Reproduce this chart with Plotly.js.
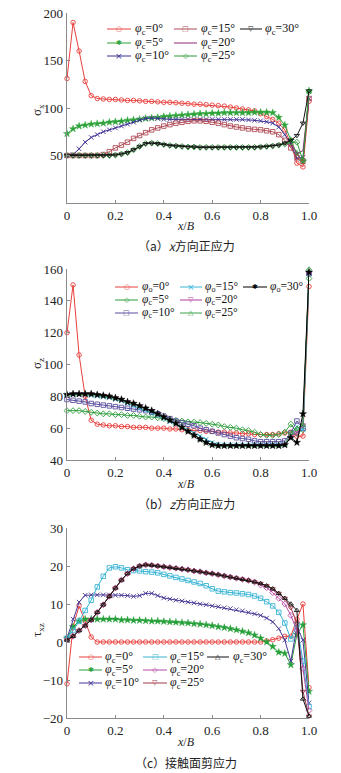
<!DOCTYPE html>
<html><head><meta charset="utf-8">
<script src="https://cdn.plot.ly/plotly-3.0.1.min.js"></script>
<style>html,body{margin:0;padding:0;background:#fff}#chart{width:341px;height:773px}</style>
</head><body><div id="chart"></div>
<script>
// ---------- data ----------
const xB = [0,0.025,0.05,0.075,0.1,0.125,0.15,0.175,0.2,0.225,0.25,0.275,0.3,0.325,0.35,0.375,0.4,0.425,0.45,0.475,0.5,0.525,0.55,0.575,0.6,0.625,0.65,0.675,0.7,0.725,0.75,0.775,0.8,0.825,0.85,0.875,0.9,0.925,0.95,0.975,1.0];
const xTickVals = [0,0.2,0.4,0.6,0.8,1.0];
const xTickText = ['0','0.2','0.4','0.6','0.8','1.0'];

// (a) sigma_x
const sx0  = [131,190,160,128,113,110,109.5,109,109,108.5,108,108,107.5,107,107,106.5,106,106,105.5,105,104.5,104,104,103.5,103,102.5,102,101,100,99,98,97,94,91,88,84,77,62,42,38,107];
const sx5  = [73,78,81,82,83,83.5,84,85,85.5,86,87,87.5,88,89,89.5,90,91,91.5,92,92.5,93,93.5,94,94,94.5,94.5,95,95,95,95,95,95.5,95.5,95.5,95,90,82,66,52,44,118];
const sx10 = [50,51,57,64,69,72,75,77,79,81,83,85,87.5,89,89.5,89,88,88,88,88,88,88,88,88,88,88,88,88,88,88,87.5,87,86.5,85.5,84,80,72,62,47,48,110];
const sx15 = [50,50,50,50,50,50,51,54,58,61,64,68,71,74,77,79,81,82.5,84,85,86,86.5,86.5,86,85,84,82.5,81,80,79,78,77.5,77,76,75,72,66,58,48,44,110];
const sx20 = [50,50,50,50,50,50,50,50,50.5,51.5,53,56,59.5,62.5,63,62.5,61.5,60.5,60,59.5,59,59,58.5,58.5,58.5,58.5,58.5,58.5,58.5,58.5,58.5,58.5,59,59.5,60,61,62,62,52,55,112];
const sx25 = [50,50,50,50,50,50,50,50,50.5,51.5,53,56,59.5,62.5,63,62.5,61.5,60.5,60,59.5,59,59,58.5,58.5,58.5,58.5,58.5,58.5,58.5,58.5,58.5,58.5,59,59.5,60,61,62,64,64,45,117];
const sx30 = [50,50,50,50,50,50,50,50,50.5,51.5,53,56,59.5,62.5,63,62.5,61.5,60.5,60,59.5,59,59,58.5,58.5,58.5,58.5,58.5,58.5,58.5,58.5,58.5,58.5,59,59.5,60,61,63,66,71,84,118];

// (b) sigma_z
const sz0  = [120,150,106,80,65,62.5,62,61.5,61.5,61,61,60.5,60.5,60.5,60,60,60,59.5,59.5,59,59,58.5,58.5,58,58,57.5,57.5,57,57,56.5,56.5,56,56,56,56,56.5,57,57.5,55,55,149];
const sz5  = [71,71,71,70.5,70,69.5,69,69,68.5,68.5,68,68,67.5,67,67,66.5,66,65.5,65,64.5,64,63.8,63.5,63,62.5,62,61,60.5,60,59,58.5,57.5,56,55.5,55.5,56,57.5,62.5,57,59,154];
const sz10 = [78,77.5,77,76.5,75.5,75,74.5,74,73.5,73,72.5,72,71.5,71,70,69,67.5,66,64.5,63.5,62.5,61.5,60,59,58,57,56,55,54,53.5,53,52,51.5,51.5,51.5,51.5,52,57,64.5,60,157];
const sz15 = [81,81,81,81,80.5,80,79.5,79,78,77,75.5,74,72.5,71,69.5,68,66,64,62.5,60.5,59,57,55,53,51,50,49.5,49.5,49.5,49.5,49.5,49.5,49.5,49.5,49.5,49.5,49.5,55,61,59,157];
const sz20 = [81,81.5,81.5,81.5,81.5,81,80.5,80,79,78,76.5,75.5,74,72.5,71,69,67,65,63,60.5,58,55.5,53,51,49.5,49,49,49,49,49,49,49,49,49,49,49,49.5,55,57,62,157];
const sz25 = [81,81.5,81.5,81.5,81.5,81,80.5,80,79,78,76.5,75.5,74,72.5,71,69,67,65,63,60.5,58,55.5,53,51,49.5,49,49,49,49,49,49,49,49,49,49,49,49.5,57,60,62,160];
const sz30 = [81,81.5,81.5,81.5,81.5,81,80.5,80,79,78,76.5,75.5,74,72.5,71,69,67,65,63,60.5,58,55.5,53,51,49.5,49,49,49,49,49,49,49,49,49,49,49,49.5,54,51,69,158];

// (c) tau_xz
const t0  = [-11,4,9.5,5.5,1.3,0,0,0,0,0,0,0,0,0,0,0,0,0,0,0,0,0,0,0,0,0,0,0,0,0,0,0,0,0.3,0.6,1,1.5,1.5,6,10,-12];
const t5  = [1,4,5.5,6,6,6,6,6,6,5.8,5.8,5.7,5.7,5.6,5.5,5.5,5.4,5.3,5.2,5.1,5,4.8,4.7,4.5,4.3,4,3.8,3.5,3.2,2.8,2.4,1.8,1,0,-1.2,-2.7,-3,-6,2,4.5,-13];
const t10 = [1,6,10.5,12.3,12.4,12.4,12.4,12.4,12.3,12.3,12.2,12,12.2,12.8,12.8,12.2,11.6,11.3,11,10.8,10.5,10.3,10,9.8,9.5,9.3,9,8.8,8.5,8.2,7.8,7.4,7,6.3,5.3,3.5,0.5,-5,4,0.5,-16];
const t15 = [1,3,5.5,8.3,11,14.5,17.3,19.5,19.8,19.5,19,18.8,18.7,18.5,18.4,18.2,17.8,17.4,17,16.6,16.2,15.8,15.4,14.8,14,13.4,13.2,13,12.9,12.7,12.5,12.1,11.5,10.6,9.5,7.8,5,0.8,4.5,-5,-17];
const t20 = [0.5,1.5,3,4.3,5.8,7.8,9.8,12,14.2,16.3,18,19.3,20,20.3,20.2,20,19.8,19.6,19.4,19.2,19,18.7,18.5,18.2,18,17.7,17.4,17.1,16.8,16.5,16.2,15.8,15,14.3,13,11.5,10,7,3,-7,-18];
const t25 = [0.5,1.5,3,4.3,5.8,7.8,9.8,12,14.2,16.3,18,19.3,20,20.3,20.2,20,19.8,19.6,19.4,19.2,19,18.7,18.5,18.2,18,17.7,17.4,17.1,16.8,16.5,16.2,15.8,15.4,14.8,14,12.8,11.5,9,5,-13,-19.5];
const t30 = [0.5,1.5,3,4.3,5.8,7.8,9.8,12,14.2,16.3,18,19.3,20,20.3,20.2,20,19.8,19.6,19.4,19.2,19,18.7,18.5,18.2,18,17.7,17.4,17.1,16.8,16.5,16.2,15.8,15.4,14.8,14,12.8,11.5,10,8.3,-15,-19.5];

const phiVals = ['0°','5°','10°','15°','20°','25°','30°'];
const subA = ['c','c','c','c','c','c','c'];
const subB = ['o','c','c','o','c','c','o'];
const subC = ['c','c','c','c','c','c','c'];
const yTicksA = [50,100,150,200];
const yTicksB = [40,60,80,100,120,140,160];
const yTicksC = [-20,-10,0,10,20,30];
const yTickTextC = ['\u221220','\u221210','0','10','20','30'];

// ---------- styling ----------
const W = 341, H = 773;
const px = v => v / W, py = v => 1 - v / H;
const serif = 'Liberation Serif, Times New Roman, serif';
const axisCol = '#8a8a8a';

const panels = [
  { ax: '', series: [sx0,sx5,sx10,sx15,sx20,sx25,sx30], sub: subA,
    colors: ['#e8403c','#2ea33a','#3d2f94','#b04a55','#8e2a78','#2f9a3a','#111111'],
    symbols: ['circle-open','star','x-thin','square-open','none','diamond-open','triangle-down-open'],
    range: [0,200], ticks: yTicksA, tickText: null, ytop: 13, ybot: 203, legSize: 12,
    ytitle: 'σ<sub>x</sub>', ytitleY: 110, xtitleY: 226, caption: '（a）<i>x</i>方向正应力', capY: 245,
    legRows: [29,43,56], legLines: [[107,131],[174,197],[240,262]], legText: [133,199,263] },
  { ax: '2', series: [sz0,sz5,sz10,sz15,sz20,sz25,sz30], sub: subB,
    colors: ['#e8403c','#2c9d3c','#5a4f9e','#3ab6d8','#b23ea0','#3aa04a','#000000'],
    symbols: ['circle-open','diamond-open','square-open','x-thin','triangle-down-open','triangle-up-open','star'],
    range: [40,160], ticks: yTicksB, tickText: null, ytop: 269, ybot: 460, legSize: 11.5,
    ytitle: 'σ<sub>z</sub>', ytitleY: 364, xtitleY: 484, caption: '（b）<i>z</i>方向正应力', capY: 503,
    legRows: [287,300,313], legLines: [[115,138],[180,202],[243,267]], legText: [140,203,268] },
  { ax: '3', series: [t0,t5,t10,t15,t20,t25,t30], sub: subC,
    colors: ['#e8403c','#27a03a','#453594','#38b4d4','#b44aa6','#a23a48','#111111'],
    symbols: ['circle-open','star','x-thin','square-open','diamond-open','triangle-down-open','triangle-up-open'],
    range: [-20,30], ticks: yTicksC, tickText: yTickTextC, ytop: 528, ybot: 718, legSize: 12,
    ytitle: 'τ<sub>xz</sub>', ytitleY: 630, xtitleY: 742, caption: '（c）接触面剪应力', capY: 762,
    legRows: [657,670,683], legLines: [[79,102],[143,167],[207,229]], legText: [103,168,231] }
];

const glyph = {'circle-open':'○','square-open':'□','diamond-open':'◇','triangle-down-open':'▽',
               'triangle-up-open':'△','x-thin':'×','star':'✱','none':''};

const traces = [], shapes = [], annotations = [];
const layout = {
  width: W, height: H, margin: {l:0,r:0,t:0,b:0},
  paper_bgcolor: '#fff', plot_bgcolor: '#fff', showlegend: false,
  font: {family: serif, size: 12, color: '#222'}
};

panels.forEach(p => {
  const xa = 'xaxis' + p.ax, ya = 'yaxis' + p.ax;
  layout[xa] = {
    domain: [px(67), px(309)], range: [0,1], anchor: 'y' + p.ax,
    showline: true, linecolor: axisCol, linewidth: 1.3, ticks: 'inside', ticklen: 3,
    tickcolor: axisCol, tickwidth: 1, showgrid: false, zeroline: false,
    tickvals: xTickVals, ticktext: xTickText, tickfont: {family: serif, size: 13, color: '#222'}
  };
  layout[ya] = {
    domain: [py(p.ybot), py(p.ytop)], range: p.range, anchor: 'x' + p.ax,
    showline: true, linecolor: axisCol, linewidth: 1.3, ticks: 'inside', ticklen: 3,
    tickcolor: axisCol, tickwidth: 1, showgrid: false, zeroline: false,
    tickvals: p.ticks, tickfont: {family: serif, size: 13, color: '#222'}
  };
  if (p.tickText) layout[ya].ticktext = p.tickText;

  p.series.forEach((ys, i) => {
    const sym = p.symbols[i];
    const t = {
      x: xB, y: ys, xaxis: 'x' + p.ax, yaxis: 'y' + p.ax, type: 'scatter',
      mode: sym === 'none' ? 'lines' : 'lines+markers', cliponaxis: false,
      line: {color: p.colors[i], width: 1}, showlegend: false,
      name: 'φc=' + phiVals[i]
    };
    if (sym !== 'none') {
      t.marker = {symbol: sym, size: sym === 'star' ? 5.5 : 4.5, color: p.colors[i],
                  line: {color: p.colors[i], width: sym === 'star' ? 0.4 : 0.9}};
    }
    traces.push(t);

    // legend entry (3 columns: 0,5,10 | 15,20,25 | 30)
    const col = Math.floor(i / 3), row = i % 3;
    const y = p.legRows[row];
    const [l1, l2] = p.legLines[col];
    shapes.push({type: 'line', xref: 'paper', yref: 'paper', x0: px(l1), x1: px(l2), y0: py(y), y1: py(y),
                 line: {color: p.colors[i], width: 1}});
    if (glyph[sym]) {
      annotations.push({xref: 'paper', yref: 'paper', x: px((l1 + l2) / 2), y: py(y), xanchor: 'center', yanchor: 'middle',
        text: glyph[sym], showarrow: false, font: {family: 'DejaVu Sans', size: sym === 'x-thin' ? 9 : 7, color: p.colors[i]}});
    }
    annotations.push({xref: 'paper', yref: 'paper', x: px(p.legText[col]), y: py(y), xanchor: 'left', yanchor: 'middle',
      text: '<i>φ</i><sub>' + p.sub[i] + '</sub>=' + phiVals[i], showarrow: false,
      font: {family: serif, size: p.legSize, color: '#111'}});
  });

  annotations.push({xref: 'paper', yref: 'paper', x: px(37), y: py(p.ytitleY), textangle: -90,
    xanchor: 'center', yanchor: 'middle', text: p.ytitle, showarrow: false, font: {family: serif, size: 13, color: '#222'}});
  annotations.push({xref: 'paper', yref: 'paper', x: px(186), y: py(p.xtitleY),
    xanchor: 'center', yanchor: 'middle', text: '<i>x</i>/<i>B</i>', showarrow: false, font: {family: serif, size: 12, color: '#222'}});
  annotations.push({xref: 'paper', yref: 'paper', x: px(186), y: py(p.capY),
    xanchor: 'center', yanchor: 'middle', text: p.caption, showarrow: false,
    font: {family: 'Noto Sans CJK SC', size: 12, color: '#222'}});
});

layout.shapes = shapes;
layout.annotations = annotations;
Plotly.newPlot('chart', traces, layout, {displayModeBar: false, staticPlot: true});
</script>
</body></html>
